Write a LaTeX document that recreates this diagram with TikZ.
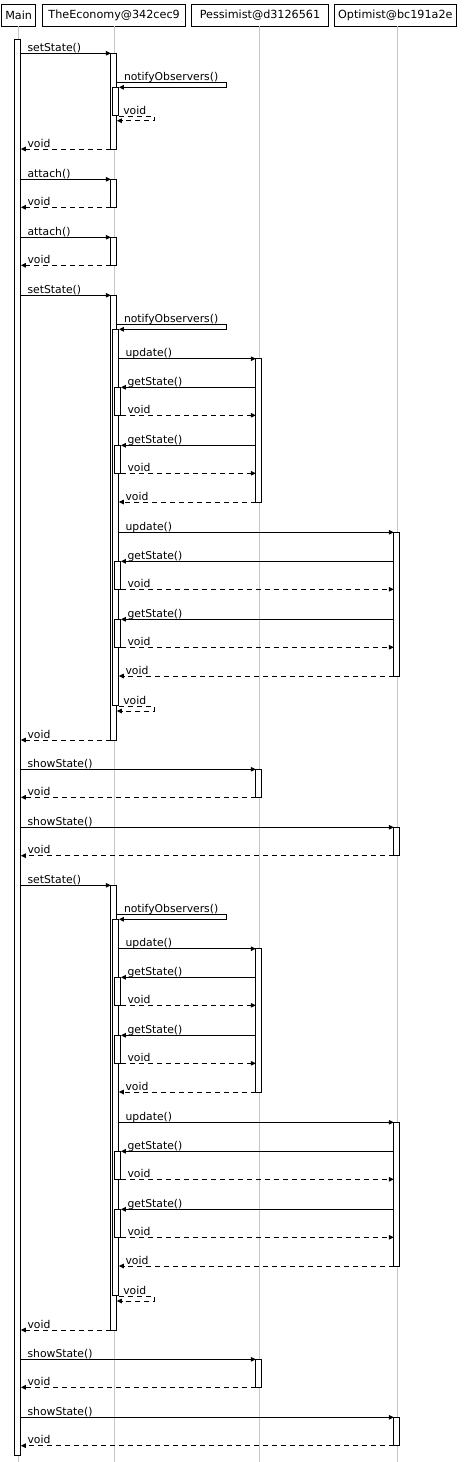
\documentclass[tikz,border=0pt]{standalone}
\usepackage{fontspec}
\setmainfont{DejaVu Sans}
\usetikzlibrary{arrows.meta}
\tikzset{
  life/.style={draw=black!22, line width=1pt},
  head/.style={draw, line width=1pt, inner sep=0pt, outer sep=0pt, minimum height=21.5pt, font=\fontsize{11.2}{13}\selectfont},
  actbar/.style={draw, fill=white, line width=1pt, inner sep=0pt, outer sep=0pt, minimum width=6pt, anchor=north west},
  msg/.style={line width=1pt, -{Triangle[length=5pt,width=4.5pt]}},
  ret/.style={msg, dash pattern=on 5pt off 4pt},
  lbl/.style={anchor=base west, inner sep=0pt, xshift=6.3pt, yshift=2pt, font=\fontsize{10.8}{13}\selectfont},
}
\newcommand\actb[4]{\node[actbar, minimum height={(#4)-(#3)}] (#1) at (#2,#3) {};}
\newcommand\ublock[2]{%
  \actb{te#2}{110.8}{295.3+#1}{740+#1}
  \draw[msg] (mb.east |- te#2.north west) -- node[lbl,pos=0]{setState()} (te#2.north west);
  \actb{n#2}{112.8}{329.3+#1}{705+#1}
  \coordinate (nt#2) at (226.3,324.7+#1);
  \draw[msg] (te#2.east |- nt#2) node[lbl,xshift=0.4pt]{notifyObservers()} -- (nt#2) |- (n#2.north east);
  % Pessimist update
  \actb{p#2}{255.8}{358.7+#1}{502+#1}
  \draw[msg] (n#2.east |- p#2.north west) -- node[lbl,pos=0]{update()} (p#2.north west);
  \actb{ga#2}{114.8}{387.3+#1}{415.3+#1}
  \draw[msg] (p#2.west |- ga#2.north east) -- node[lbl,pos=1]{getState()} (ga#2.north east);
  \draw[ret] (ga#2.south east) -- node[lbl,pos=0]{void} (p#2.west |- ga#2.south east);
  \actb{gb#2}{114.8}{445.3+#1}{473.3+#1}
  \draw[msg] (p#2.west |- gb#2.north east) -- node[lbl,pos=1]{getState()} (gb#2.north east);
  \draw[ret] (gb#2.south east) -- node[lbl,pos=0]{void} (p#2.west |- gb#2.south east);
  \draw[ret] (p#2.south west) -- node[lbl,pos=1]{void} (n#2.east |- p#2.south west);
  % Optimist update
  \actb{o#2}{393.8}{532.3+#1}{676+#1}
  \draw[msg] (n#2.east |- o#2.north west) -- node[lbl,pos=0]{update()} (o#2.north west);
  \actb{gc#2}{114.8}{561.3+#1}{589.3+#1}
  \draw[msg] (o#2.west |- gc#2.north east) -- node[lbl,pos=1]{getState()} (gc#2.north east);
  \draw[ret] (gc#2.south east) -- node[lbl,pos=0]{void} (o#2.west |- gc#2.south east);
  \actb{gd#2}{114.8}{619.3+#1}{647.3+#1}
  \draw[msg] (o#2.west |- gd#2.north east) -- node[lbl,pos=1]{getState()} (gd#2.north east);
  \draw[ret] (gd#2.south east) -- node[lbl,pos=0]{void} (o#2.west |- gd#2.south east);
  \draw[ret] (o#2.south west) -- node[lbl,pos=1]{void} (n#2.east |- o#2.south west);
  % self return
  \coordinate (sr#2) at (154.3,711+#1);
  \draw[ret] ([yshift=-1.5pt]n#2.south east) node[lbl,xshift=-2.3pt]{void} -| (sr#2) -- (te#2.east |- sr#2);
  \draw[ret] (te#2.south west) -- node[lbl,pos=1]{void} (mb.east |- te#2.south west);
  % showState
  \actb{ps#2}{255.8}{769.3+#1}{797.3+#1}
  \draw[msg] (mb.east |- ps#2.north west) -- node[lbl,pos=0]{showState()} (ps#2.north west);
  \draw[ret] (ps#2.south west) -- node[lbl,pos=1]{void} (mb.east |- ps#2.south west);
  \actb{os#2}{393.8}{827.3+#1}{855.7+#1}
  \draw[msg] (mb.east |- os#2.north west) -- node[lbl,pos=0]{showState()} (os#2.north west);
  \draw[ret] (os#2.south west) -- node[lbl,pos=1]{void} (mb.east |- os#2.south west);
}
\begin{document}
\begin{tikzpicture}[x=1pt,y=-1pt]
\useasboundingbox (0,0) rectangle (472,1462);
\coordinate (bot) at (0,1462);
% heads
\node[head, minimum width=34.3pt] (hMain) at (18.65,15.5) {Main};
\node[head, minimum width=142.7pt] (hTE) at (114.15,15.5) {TheEconomy@342cec9};
\node[head, minimum width=136.4pt] (hP) at (260,15.5) {Pessimist@d3126561};
\node[head, minimum width=121.7pt] (hO) at (395.35,15.5) {Optimist@bc191a2e};
% lifelines
\path ([xshift=-0.15pt]hMain.south) coordinate (lMain);
\path ([xshift=0.35pt]hTE.south) coordinate (lTE);
\path ([xshift=-0.5pt]hP.south) coordinate (lP);
\path ([xshift=2.15pt]hO.south) coordinate (lO);
\draw[life] (lMain) -- (lMain |- bot);
\draw[life] (lTE) -- (lTE |- bot);
\draw[life] (lP) -- (lP |- bot);
\draw[life] (lO) -- (lO |- bot);
% Main activation
\actb{mb}{14.8}{39.3}{1455}
% block 1
\actb{te0}{110.8}{53.3}{149}
\draw[msg] (mb.east |- te0.north west) -- node[lbl,pos=0]{setState()} (te0.north west);
\actb{n0}{112.8}{87.3}{115}
\coordinate (nt0) at (226.3,82.3);
\draw[msg] (te0.east |- nt0) node[lbl,xshift=0.4pt]{notifyObservers()} -- (nt0) |- (n0.north east);
\coordinate (sr0) at (154.3,120.7);
\draw[ret] ([yshift=-1.5pt]n0.south east) node[lbl,xshift=-2.3pt]{void} -| (sr0) -- (te0.east |- sr0);
\draw[ret] (te0.south west) -- node[lbl,pos=1]{void} (mb.east |- te0.south west);
% attach
\actb{a1}{110.8}{179.3}{207.3}
\draw[msg] (mb.east |- a1.north west) -- node[lbl,pos=0]{attach()} (a1.north west);
\draw[ret] (a1.south west) -- node[lbl,pos=1]{void} (mb.east |- a1.south west);
\actb{a2}{110.8}{237.3}{265.3}
\draw[msg] (mb.east |- a2.north west) -- node[lbl,pos=0]{attach()} (a2.north west);
\draw[ret] (a2.south west) -- node[lbl,pos=1]{void} (mb.east |- a2.south west);
% blocks 2 and 3
\ublock{0}{B}
\ublock{590}{C}
\end{tikzpicture}
\end{document}
